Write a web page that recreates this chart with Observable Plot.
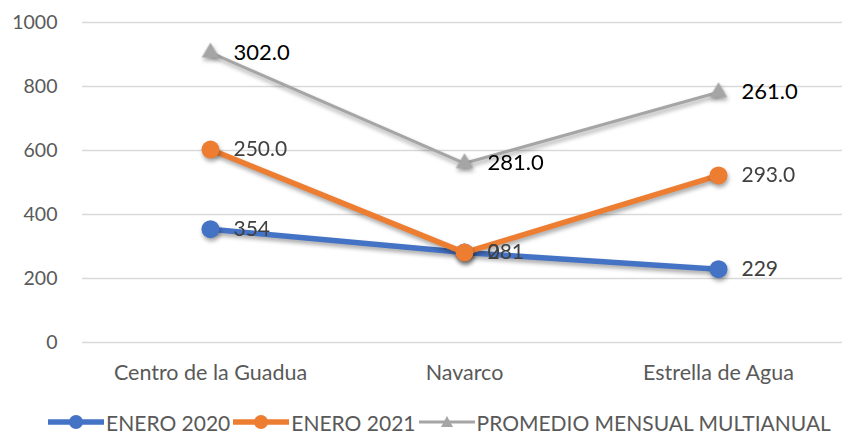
<!DOCTYPE html>
<html>
<head>
<meta charset="utf-8">
<script src="https://cdn.jsdelivr.net/npm/d3@7"></script>
<script src="https://cdn.jsdelivr.net/npm/@observablehq/plot@0.6"></script>
<style>
  html, body { margin: 0; padding: 0; background: #fff; }
  body { width: 842px; height: 433px; overflow: hidden; font-family: Lato, "Open Sans", sans-serif; }
  #chart svg { display: block; }
  .shadow { filter: drop-shadow(1px 3px 2px rgba(0,0,0,0.35)); }
  #legend { display: flex; align-items: center; justify-content: center; gap: 2px; height: 38px; margin-top: 8px; color: #595959; font-size: 21px; padding-left: 36px; }
  #legend .item { display: flex; align-items: center; gap: 1px; }
</style>
</head>
<body>
<div id="chart"></div>
<div id="legend"></div>
<script>
const categories = ["Centro de la Guadua", "Navarco", "Estrella de Agua"];
const seriesNames = ["ENERO 2020", "ENERO 2021", "PROMEDIO MENSUAL MULTIANUAL"];
const enero2020 = [354, 281, 229];
const enero2021 = [603, 281, 522];
const promedio = [906, 560, 782];
const labels2020 = ["354", "281", "229"];
const labels2021 = ["250.0", "0", "293.0"];
const labelsPromedio = ["302.0", "281.0", "261.0"];
const yTicks = [0, 200, 400, 600, 800, 1000];
const colors = ["#4472C4", "#ED7D31", "#A5A5A5"];

const rows = (vals, labs, s) => vals.map((v, i) => ({cat: categories[i], value: v, label: labs[i], series: s}));
const d2020 = rows(enero2020, labels2020, seriesNames[0]);
const d2021 = rows(enero2021, labels2021, seriesNames[1]);
const dProm = rows(promedio, labelsPromedio, seriesNames[2]);

const chart = Plot.plot({
  width: 842,
  height: 395,
  marginLeft: 82,
  marginRight: 0,
  marginTop: 22,
  marginBottom: 53,
  style: {fontFamily: "Lato, 'Open Sans', sans-serif", background: "#fff"},
  x: {type: "point", domain: categories, range: [209, 718], padding: 0, label: null},
  y: {domain: [0, 1000], label: null},
  marks: [
    Plot.ruleY(yTicks, {stroke: "#D9D9D9", strokeWidth: 1.3}),
    Plot.axisY({ticks: yTicks, tickFormat: d => String(d), tickSize: 0, tickPadding: 25, fontSize: 19.5, fill: "#595959", label: null}),
    Plot.axisX({tickSize: 0, tickPadding: 22, fontSize: 21.5, fill: "#595959", label: null}),
    Plot.line(dProm, {x: "cat", y: "value", stroke: colors[2], strokeWidth: 3, className: "shadow"}),
    Plot.dot(dProm, {x: "cat", y: "value", symbol: "triangle", r: 5.5, fill: colors[2], stroke: colors[2], className: "shadow"}),
    Plot.line(d2020, {x: "cat", y: "value", stroke: colors[0], strokeWidth: 5.5, className: "shadow"}),
    Plot.dot(d2020, {x: "cat", y: "value", r: 9, fill: colors[0], className: "shadow"}),
    Plot.line(d2021, {x: "cat", y: "value", stroke: colors[1], strokeWidth: 5.5, className: "shadow"}),
    Plot.dot(d2021, {x: "cat", y: "value", r: 9, fill: colors[1], className: "shadow"}),
    Plot.text(d2020, {x: "cat", y: "value", text: "label", dx: 23, textAnchor: "start", fontSize: 21, fill: "#404040"}),
    Plot.text(d2021, {x: "cat", y: "value", text: "label", dx: 23, textAnchor: "start", fontSize: 21, fill: "#404040"}),
    Plot.text(dProm, {x: "cat", y: "value", text: "label", dx: 23, textAnchor: "start", fontSize: 22, fill: "#000"})
  ]
});
document.getElementById("chart").appendChild(chart);

// Legend
const legend = document.getElementById("legend");
seriesNames.forEach((name, i) => {
  const item = document.createElement("div");
  item.className = "item";
  const ns = "http://www.w3.org/2000/svg";
  const sw = document.createElementNS(ns, "svg");
  sw.setAttribute("width", 58);
  sw.setAttribute("height", 20);
  const ln = document.createElementNS(ns, "line");
  ln.setAttribute("x1", 1); ln.setAttribute("x2", 57);
  ln.setAttribute("y1", 10); ln.setAttribute("y2", 10);
  ln.setAttribute("stroke", colors[i]);
  ln.setAttribute("stroke-width", i === 2 ? 3 : 5.5);
  sw.appendChild(ln);
  if (i < 2) {
    const c = document.createElementNS(ns, "circle");
    c.setAttribute("cx", 29); c.setAttribute("cy", 10); c.setAttribute("r", 7);
    c.setAttribute("fill", colors[i]);
    sw.appendChild(c);
  } else {
    const p = document.createElementNS(ns, "path");
    p.setAttribute("d", "M29,4 L35,15 L23,15 Z");
    p.setAttribute("fill", colors[i]);
    sw.appendChild(p);
  }
  item.appendChild(sw);
  const t = document.createElement("span");
  t.textContent = name;
  item.appendChild(t);
  legend.appendChild(item);
});
</script>
</body>
</html>
